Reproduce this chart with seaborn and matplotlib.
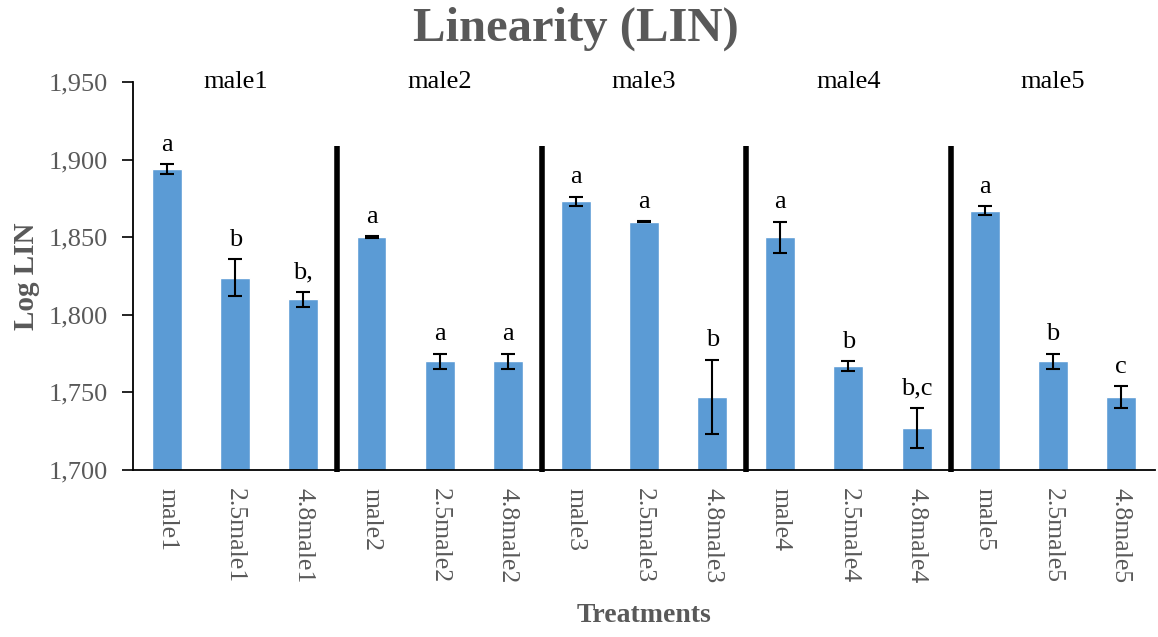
import numpy as np
import pandas as pd
import matplotlib
matplotlib.use("Agg")
import matplotlib.pyplot as plt
from matplotlib.ticker import FuncFormatter
import seaborn as sns

# data
groups = ["male1", "male2", "male3", "male4", "male5"]
treatments = ["male1", "2.5male1", "4.8male1",
              "male2", "2.5male2", "4.8male2",
              "male3", "2.5male3", "4.8male3",
              "male4", "2.5male4", "4.8male4",
              "male5", "2.5male5", "4.8male5"]
log_lin = [1.894, 1.824, 1.810,
           1.850, 1.770, 1.770,
           1.873, 1.860, 1.747,
           1.850, 1.767, 1.727,
           1.867, 1.770, 1.747]
errors = [0.003, 0.012, 0.005,
          0.0005, 0.005, 0.005,
          0.003, 0.0005, 0.024,
          0.010, 0.003, 0.013,
          0.003, 0.005, 0.007]
letters = ["a", "b", "b,",
           "a", "a", "a",
           "a", "a", "b",
           "a", "b", "b,c",
           "a", "b", "c"]

df = pd.DataFrame({"treatment": treatments, "value": log_lin, "err": errors})

sns.set_style("white")
plt.rcParams["font.family"] = ["Liberation Serif", "DejaVu Serif"]

fig = plt.figure(figsize=(11.58, 6.37), dpi=100)
ax = fig.add_axes([0.1149, 0.2622, 0.8825, 0.6091])

sns.barplot(data=df, x="treatment", y="value", color="#5B9BD5",
            saturation=1, width=0.44, errorbar=None, ax=ax)
ax.errorbar(np.arange(len(df)), df["value"], yerr=df["err"], fmt="none",
            ecolor="black", elinewidth=1.5, capsize=5, capthick=1.5)

ax.set_ylim(1.7, 1.95)
ax.set_xlim(-0.5, len(df) - 0.5)
ax.set_yticks([1.70, 1.75, 1.80, 1.85, 1.90, 1.95])
ax.yaxis.set_major_formatter(FuncFormatter(lambda v, p: f"{v:.3f}".replace(".", ",")))
ax.tick_params(axis="y", direction="out", length=8, width=1.2, color="black",
               labelsize=19, labelcolor="#595959", left=True, pad=10)
ax.tick_params(axis="x", length=0, labelsize=18.5, labelcolor="#595959", pad=13)
plt.setp(ax.get_xticklabels(), rotation=270, va="top", ha="center")

sns.despine(ax=ax)
for s in ["left", "bottom"]:
    ax.spines[s].set_color("black")
    ax.spines[s].set_linewidth(1.3)

# letters above bars
for i, (v, e, t) in enumerate(zip(log_lin, errors, letters)):
    ax.annotate(t, (i, v + e), xytext=(0, 6), textcoords="offset points",
                ha="center", va="bottom", fontsize=19, color="black")

# group labels and separators
per = len(treatments) // len(groups)
for g, name in enumerate(groups):
    ax.text(g * per + 1, 1.95, name, ha="center", va="center",
            fontsize=19, color="black", clip_on=False)
    if g > 0:
        xs = g * per - 0.5
        ax.plot([xs, xs], [1.6985, 1.909], color="black", lw=4,
                solid_capstyle="butt", clip_on=False)

ax.set_xlabel("Treatments", fontsize=20, fontweight="bold", color="#595959", va="center")
ax.xaxis.set_label_coords(0.5, -0.375)
ax.set_ylabel("Log LIN", fontsize=21, fontweight="bold", color="#595959", labelpad=6)
fig.suptitle("Linearity (LIN)", fontsize=35, fontweight="bold", color="#595959",
             x=0.497, y=0.99, va="top")

fig.savefig("out.png", dpi=100)
